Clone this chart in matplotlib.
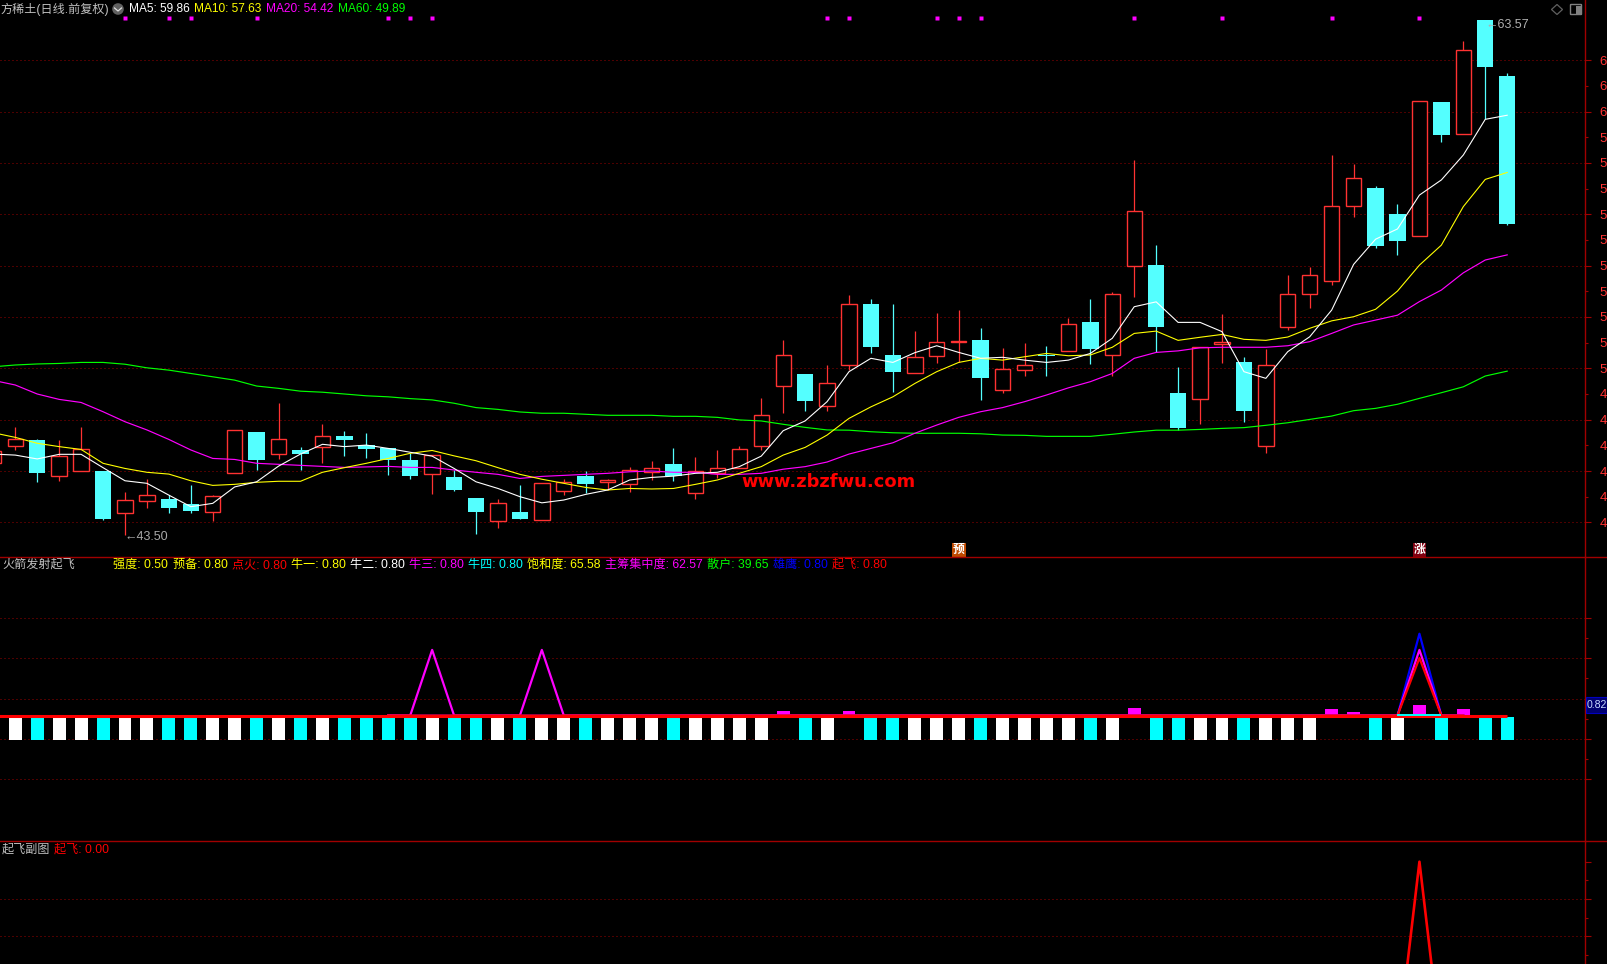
import numpy as np
import matplotlib
matplotlib.use('Agg')
import matplotlib.pyplot as plt
from matplotlib.lines import Line2D
from matplotlib.patches import Rectangle, Polygon, Circle, FancyBboxPatch

plt.rcParams['font.family'] = ['Liberation Sans', 'Noto Sans CJK SC', 'DejaVu Sans']

W, H = 1608, 964

# index -1 is the candle cut off by the left edge
days = np.arange(-1, 69)

opens = [46.30, 46.98, 47.21, 45.82, 46.01, 45.99, 44.38, 44.84, 44.91, 44.71,
         44.41, 45.91, 47.52, 46.65, 46.82, 46.92, 47.36, 47.01, 46.89, 46.43,
         45.89, 45.77, 44.95, 44.06, 44.40, 44.10, 45.23, 45.80, 45.58, 45.50,
         45.97, 46.27, 45.15, 45.93, 46.10, 46.98, 49.30, 49.78, 48.52, 50.12,
         52.50, 50.52, 49.80, 50.47, 51.01, 51.10, 49.14, 49.92, 50.52, 50.66,
         51.80, 50.50, 53.97, 54.02, 49.04, 48.79, 50.96, 50.25, 46.99, 51.60,
         52.88, 53.39, 56.31, 57.02, 56.01, 55.14, 60.37, 59.12, 63.57, 61.39]
highs = [47.01, 47.70, 47.25, 47.21, 47.70, 45.99, 45.17, 45.68, 45.06, 45.45,
         45.05, 47.58, 47.52, 48.64, 46.93, 47.83, 47.56, 47.48, 46.89, 46.69,
         46.61, 46.04, 44.95, 44.91, 45.45, 45.52, 45.68, 46.00, 45.68, 46.16,
         46.39, 46.89, 46.54, 46.82, 46.97, 48.84, 51.12, 49.78, 50.12, 52.84,
         52.70, 52.50, 51.44, 52.14, 52.26, 51.56, 50.78, 50.97, 50.86, 51.95,
         52.69, 52.96, 58.10, 54.79, 50.04, 50.82, 52.12, 50.44, 50.75, 53.64,
         53.93, 58.31, 57.96, 57.10, 56.40, 60.40, 60.37, 62.75, 63.57, 61.50]
lows = [46.04, 46.82, 45.58, 45.62, 46.01, 44.09, 43.50, 44.57, 44.38, 44.38,
        44.05, 45.91, 46.05, 46.48, 46.05, 46.32, 46.59, 46.52, 45.86, 45.70,
        45.12, 45.23, 43.56, 43.79, 44.14, 44.10, 45.07, 45.14, 45.27, 45.19,
        45.66, 45.62, 44.92, 45.74, 46.10, 46.82, 48.27, 48.35, 48.35, 49.93,
        50.61, 49.09, 49.80, 50.22, 50.26, 48.78, 49.05, 49.71, 49.71, 50.66,
        50.18, 49.71, 52.79, 50.64, 47.60, 47.83, 50.22, 47.92, 46.71, 51.49,
        52.36, 53.25, 55.91, 54.70, 54.43, 55.14, 58.83, 59.12, 59.70, 55.58]
closes = [46.77, 47.23, 45.93, 46.57, 46.84, 44.14, 44.86, 45.05, 44.57, 44.45,
          45.01, 47.58, 46.44, 47.23, 46.66, 47.35, 47.21, 46.86, 46.43, 45.82,
          46.61, 45.27, 44.41, 44.74, 44.14, 45.52, 45.56, 45.49, 45.65, 46.03,
          46.10, 45.80, 45.99, 46.10, 46.84, 48.17, 50.50, 48.74, 49.41, 52.49,
          50.84, 49.87, 50.43, 51.01, 51.06, 49.63, 49.96, 50.12, 50.48, 51.71,
          50.76, 52.88, 56.12, 51.62, 47.69, 50.82, 51.04, 48.35, 50.12, 52.88,
          53.62, 56.31, 57.40, 54.77, 54.97, 60.40, 59.10, 62.39, 61.75, 55.63]

ma5 = [46.66, 46.62, 46.47, 46.65, 46.65, 46.13, 45.62, 45.52, 45.06, 44.61,
       44.74, 45.38, 45.58, 46.19, 46.66, 47.04, 46.95, 47.01, 46.88, 46.73,
       46.58, 46.10, 45.58, 45.32, 45.00, 44.76, 44.87, 45.09, 45.26, 45.65,
       45.75, 45.80, 45.91, 45.95, 46.17, 46.58, 47.57, 47.95, 48.70, 49.87,
       50.39, 50.23, 50.61, 50.88, 50.62, 50.39, 50.43, 50.32, 50.23, 50.32,
       50.58, 51.17, 52.40, 52.59, 51.79, 51.79, 51.43, 49.87, 49.61, 50.65,
       51.23, 52.27, 54.05, 55.03, 55.43, 56.75, 57.34, 58.31, 59.70, 59.86]
ma10 = [47.49, 47.31, 47.08, 46.95, 46.84, 46.30, 46.10, 45.95, 45.88, 45.62,
        45.44, 45.48, 45.56, 45.60, 45.60, 45.95, 46.13, 46.30, 46.49, 46.69,
        46.80, 46.59, 46.40, 46.13, 45.87, 45.68, 45.52, 45.36, 45.26, 45.32,
        45.30, 45.32, 45.48, 45.65, 45.91, 46.17, 46.62, 46.92, 47.40, 48.05,
        48.50, 48.89, 49.41, 49.87, 50.23, 50.39, 50.32, 50.45, 50.58, 50.49,
        50.52, 50.82, 51.36, 51.45, 51.09, 51.21, 51.32, 51.13, 51.09, 51.22,
        51.56, 51.85, 52.01, 52.30, 53.01, 54.02, 54.80, 56.30, 57.36, 57.63]
ma20 = [49.53, 49.35, 49.00, 48.79, 48.67, 48.31, 47.92, 47.60, 47.23, 46.82,
        46.49, 46.45, 46.30, 46.26, 46.22, 46.18, 46.14, 46.16, 46.18, 46.14,
        46.14, 46.04, 45.95, 45.87, 45.71, 45.79, 45.83, 45.87, 45.91, 45.97,
        46.00, 45.95, 45.95, 45.87, 45.87, 45.91, 46.07, 46.17, 46.35, 46.66,
        46.88, 47.10, 47.47, 47.79, 48.09, 48.31, 48.47, 48.70, 48.96, 49.24,
        49.48, 49.80, 50.39, 50.62, 50.68, 50.80, 50.82, 50.82, 50.82, 50.88,
        51.04, 51.36, 51.69, 51.88, 52.07, 52.60, 53.05, 53.72, 54.22, 54.42]
ma60 = [50.06, 50.13, 50.17, 50.19, 50.23, 50.23, 50.16, 50.02, 49.93, 49.80,
        49.67, 49.54, 49.31, 49.22, 49.11, 49.07, 49.00, 48.93, 48.89, 48.82,
        48.77, 48.64, 48.47, 48.40, 48.30, 48.25, 48.25, 48.21, 48.17, 48.17,
        48.17, 48.13, 48.13, 48.09, 47.99, 47.95, 47.82, 47.70, 47.60, 47.59,
        47.53, 47.49, 47.47, 47.47, 47.47, 47.45, 47.40, 47.39, 47.35, 47.35,
        47.35, 47.43, 47.52, 47.59, 47.59, 47.62, 47.66, 47.69, 47.78, 47.88,
        48.01, 48.14, 48.35, 48.44, 48.60, 48.83, 49.05, 49.28, 49.70, 49.89]

price_ticks = [62, 60, 58, 56, 54, 52, 50, 48, 46, 44]
price_labels = ['6', '6', '5', '5', '5', '5', '5', '4', '4', '4']
price_minor = [61, 59, 57, 55, 53, 51, 49, 47, 45]
minor_labels = ['6', '5', '5', '5', '5', '5', '4', '4', '4']

signal_days = [5, 7, 8, 11, 17, 18, 19, 37, 38, 42, 43, 44, 51, 55, 60, 64]
signal_price = 63.64

# lower indicator panel
white_days = [0, 2, 3, 5, 6, 9, 10, 12, 14, 19, 22, 24, 25, 27, 28, 29, 31, 32, 33, 34,
              37, 41, 42, 43, 45, 46, 47, 48, 50, 54, 55, 57, 58, 59, 63]
cyan_days = [1, 4, 7, 8, 11, 13, 15, 16, 17, 18, 20, 21, 23, 26, 30, 36, 39, 40, 44, 49,
             52, 53, 56, 62, 65, 67, 68]
bar_top = -0.02
bar_bottom = -0.30
pink_days = [35, 38, 51, 60, 61, 64, 66]
pink_vals = [0.06, 0.06, 0.09, 0.08, 0.04, 0.13, 0.08]

tri_days = [17, 18, 19, 20, 21, 23, 24, 25, 26, 62, 63, 64, 65, 66]
niu3_vals = [0, 0, 0.81, 0, 0, 0, 0.81, 0, 0, 0, 0, 0.81, 0, 0]
eagle_vals = [0, 0, 0, 0, 0, 0, 0, 0, 0, 0, 0, 1.01, 0, 0]
fly_vals = [0, 0, 0, 0, 0, 0, 0, 0, 0, 0, 0, 0.71, 0, 0]
ind_grid = [1.21, 0.71, 0.21, -0.29, -0.79]
ind_minor = [0.96, 0.46, -0.04, -0.54]

# bottom panel, only the tip of the peak fits on screen
sub_days = [62, 63, 64, 65, 66]
sub_vals = [0, 0, 0.80, 0, 0]
sub_ticks = [0.80, 0.64, 0.48]
sub_minor = [0.72, 0.56, 0.40]

GREY = '#c0c0c0'
RED = '#ff3232'
CYAN = '#54ffff'
AXIS = '#a00000'
GRID = '#9a0000'
DOTS = (0, (1, 3))
SANS = ['Liberation Sans', 'Noto Sans CJK SC', 'DejaVu Sans']


def panel(top_px, bottom_px, ylim):
    ax = fig.add_axes([0, 1 - bottom_px / H, 1585.3 / W, (bottom_px - top_px) / H])
    ax.set_facecolor('black')
    ax.set_xlim(-0.697, 71.56)
    ax.set_ylim(*ylim)
    for side in ['top', 'bottom', 'left']:
        ax.spines[side].set_visible(False)
    ax.spines['right'].set_color(AXIS)
    ax.spines['right'].set_linewidth(1.0)
    ax.xaxis.set_visible(False)
    ax.yaxis.tick_right()
    ax.tick_params(which='major', colors=AXIS, length=4, width=0.8)
    ax.tick_params(which='minor', colors=AXIS, length=2.5, width=0.8)
    return ax


def put(x, y, s, color=GREY, size=8.7, **kw):
    fig.text(x / W, 1 - y / H, s, color=color, fontsize=size, va='center', ha='left',
             family=SANS, **kw)


fig = plt.figure(figsize=(W / 100, H / 100), dpi=100, facecolor='black')

# main price panel
ax = panel(0, 557, (42.65, 64.349))
opens_a, closes_a = np.array(opens), np.array(closes)
up = closes_a >= opens_a
tops = np.maximum(opens_a, closes_a)
bots = np.minimum(opens_a, closes_a)

ax.hlines(price_ticks, -0.697, 71.56, color=GRID, lw=0.72, linestyles=[DOTS], zorder=1)
ax.vlines(days[up], np.array(lows)[up], np.array(highs)[up], color=RED, lw=0.9, zorder=2)
ax.vlines(days[~up], np.array(lows)[~up], np.array(highs)[~up], color=CYAN, lw=0.9, zorder=2)
ax.bar(days[up], (tops - bots)[up], bottom=bots[up], width=0.70, facecolor='black',
       edgecolor=RED, linewidth=1.0, zorder=3)
ax.bar(days[~up], (tops - bots)[~up], bottom=bots[~up], width=0.75, color=CYAN,
       linewidth=0, zorder=3)

ax.plot(days, ma60, color='#00ff00', lw=0.85, zorder=4)
ax.plot(days, ma20, color='#ff00ff', lw=0.85, zorder=4)
ax.plot(days, ma10, color='#ffff00', lw=0.8, zorder=5)
ax.plot(days, ma5, color='#ffffff', lw=0.8, zorder=6)
ax.plot(signal_days, [signal_price] * len(signal_days), ls='none', marker='s', ms=2.4,
        mec='none', color='#ff00ff', zorder=6)

ax.set_yticks(price_ticks, price_labels)
ax.set_yticks(price_minor, minor_labels, minor=True)
ax.tick_params(axis='y', which='major', pad=6.0, labelcolor=RED, labelsize=9.5)
ax.tick_params(axis='y', which='minor', pad=7.5, labelcolor=RED, labelsize=9.5)
for lab in ax.get_yticklabels() + ax.get_yticklabels(minor=True):
    lab.set_family(SANS)

ax.text(5, 43.44, '←43.50', color='#a8a8a8', fontsize=9, va='center', ha='left', family=SANS, zorder=7)
ax.text(67, 63.37, '←63.57', color='#b0b0b0', fontsize=9, va='center', ha='left', family=SANS, zorder=7)
ax.text(43, 42.94, '预', color='white', fontsize=8.5, fontweight='bold', ha='center', va='center',
        family=SANS, bbox=dict(boxstyle='square,pad=0.08', fc='#c04a00', ec='none'), zorder=7)
ax.text(64, 42.94, '涨', color='white', fontsize=8.5, fontweight='bold', ha='center', va='center',
        family=SANS, bbox=dict(boxstyle='square,pad=0.08', fc='#800010', ec='none'), zorder=7)

# indicator panel
ax2 = panel(557, 841.3, (-1.553, 1.957))
ax2.hlines(ind_grid, -0.697, 71.56, color=GRID, lw=0.72, linestyles=[DOTS], zorder=1)
ax2.bar(white_days, [bar_top - bar_bottom] * len(white_days), bottom=bar_bottom, width=0.59,
        color='white', linewidth=0, zorder=2)
ax2.bar(cyan_days, [bar_top - bar_bottom] * len(cyan_days), bottom=bar_bottom, width=0.59,
        color='#00ffff', linewidth=0, zorder=2)
ax2.bar([68], [bar_top + 0.025], bottom=bar_top, width=0.59, color='#00ffff', linewidth=0, zorder=2)
ax2.bar(pink_days, pink_vals, width=0.59, color='#ff00ff', linewidth=0, zorder=2)
ax2.plot(tri_days, eagle_vals, color='#0000ff', lw=1.6, zorder=3)
ax2.plot(tri_days, niu3_vals, color='#ff00ff', lw=1.6, zorder=4)
ax2.plot(tri_days, fly_vals, color='#ff0000', lw=1.6, zorder=5)
ax2.plot([-1, 68], [0, 0], color='#ff0000', lw=2.2, solid_capstyle='butt', zorder=6)
ax2.plot([63, 65], [0.005, 0.005], color='#00ffff', lw=1.4, solid_capstyle='butt', zorder=7)
ax2.set_yticks(ind_grid, [])
ax2.set_yticks(ind_minor, [], minor=True)

# bottom panel
ax3 = panel(841.3, H, (0.361, 0.8875))
ax3.hlines(sub_ticks[1:], -0.697, 71.56, color=GRID, lw=0.72, linestyles=[DOTS], zorder=1)
ax3.plot(sub_days, sub_vals, color='#ff0000', lw=1.9, zorder=3)
ax3.set_yticks(sub_ticks, [])
ax3.set_yticks(sub_minor, [], minor=True)

# separators run across to the right edge
for y_px in [557, 841.3]:
    fig.add_artist(Line2D([0, 1], [1 - y_px / H] * 2, color=AXIS, lw=1.0))

# header of the main panel
put(0, 9, '方稀土(日线.前复权)')
fig.add_artist(Circle((118, H - 9), 5.8, transform=None, fc='#606060', ec='none'))
fig.add_artist(Line2D([114.5, 118, 121.5], [H - 8, H - 11, H - 8], transform=None, color='#e0e0e0', lw=0.9))
put(128.7, 9, 'MA5: 59.86', '#ffffff', 8.6)
put(193.7, 9, 'MA10: 57.63', '#ffff00', 8.6)
put(265.7, 9, 'MA20: 54.42', '#ff00ff', 8.6)
put(337.7, 9, 'MA60: 49.89', '#00ff00', 8.6)

# window icons top right
fig.add_artist(Polygon([[1551.5, H - 9.5], [1557, H - 4.5], [1562.5, H - 9.5], [1557, H - 14.5]],
                       transform=None, fc='none', ec='#606060', lw=0.9))
fig.add_artist(FancyBboxPatch((1571, H - 14), 10, 9, boxstyle='round,pad=0.5', transform=None,
                              fc='none', ec='#808080', lw=1.0))
fig.add_artist(Rectangle((1576, H - 13.5), 5, 8, transform=None, fc='#808080', ec='none'))

# header of the indicator panel
put(2, 565, '火箭发射起飞')
ind_items = [(113, '强度: 0.50', '#ffff00'), (173, '预备: 0.80', '#ffff00'), (232, '点火: 0.80', '#ff0000'),
             (291, '牛一: 0.80', '#ffff00'), (350, '牛二: 0.80', '#ffffff'), (409, '牛三: 0.80', '#ff00ff'),
             (468, '牛四: 0.80', '#00ffff'), (527, '饱和度: 65.58', '#ffff00'),
             (605, '主筹集中度: 62.57', '#ff00ff'), (707, '散户: 39.65', '#00ff00'),
             (773, '雄鹰: 0.80', '#0000ff'), (832, '起飞: 0.80', '#ff0000')]
for x_px, label, col in ind_items:
    put(x_px, 565, label, col)

# value flag on the axis
fig.add_artist(Rectangle((1586, H - 713.3), 22, 16.3, transform=None, fc='#000070', ec='#0000c0', lw=0.8))
put(1587, 705, '0.82', '#c8d8ff', 7.6)

# header of the bottom panel
put(2, 850, '起飞副图')
put(54, 850, '起飞: 0.00', '#ff0000')

# watermark
fig.text(741 / W, 1 - 482 / H, 'www.zbzfwu.com', color='#ff0000', fontsize=12.9, fontweight='bold',
         family='DejaVu Sans', va='center', ha='left', zorder=10)

fig.savefig('out.png', dpi=100, facecolor='black')
